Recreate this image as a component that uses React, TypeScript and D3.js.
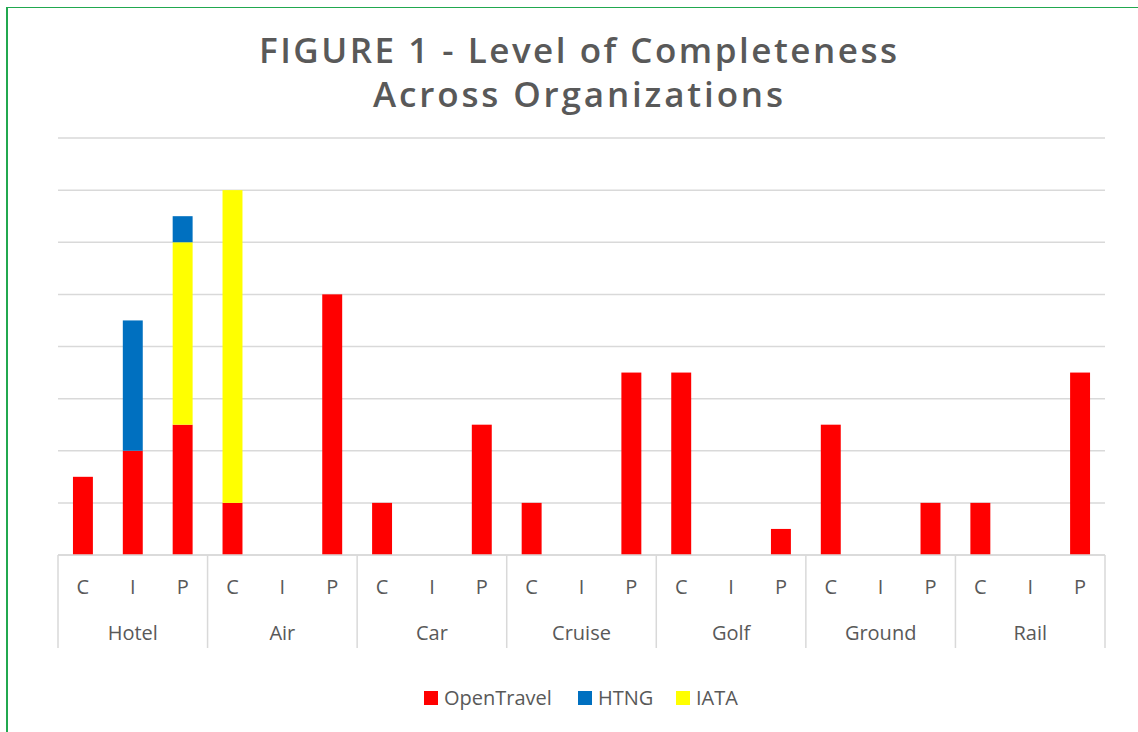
import { useEffect, useRef } from "react";
import * as d3 from "d3";

// chart data
const groups = ["Hotel", "Air", "Car", "Cruise", "Golf", "Ground", "Rail"];
const levels = ["C", "I", "P"];
const openTravel = [1.5, 2, 2.5, 1, 0, 5, 1, 0, 2.5, 1, 0, 3.5, 3.5, 0, 0.5, 2.5, 0, 1, 1, 0, 3.5];
const htng = [0, 2.5, 0.5, 0, 0, 0, 0, 0, 0, 0, 0, 0, 0, 0, 0, 0, 0, 0, 0, 0, 0];
const iata = [0, 0, 3.5, 6, 0, 0, 0, 0, 0, 0, 0, 0, 0, 0, 0, 0, 0, 0, 0, 0, 0];
const yTicks = [0, 1, 2, 3, 4, 5, 6, 7, 8];
const legendKeys = ["OpenTravel", "HTNG", "IATA"];
const stackKeys = ["OpenTravel", "IATA", "HTNG"];

const colors: Record<string, string> = {
  OpenTravel: "#ff0000",
  HTNG: "#0070c0",
  IATA: "#ffff00",
};

const W = 1138;
const H = 732;
const FONT = "'Open Sans', 'Noto Sans', sans-serif";
const TEXT = "#595959";
const GRID = "#d9d9d9";

export default function App() {
  const ref = useRef<SVGSVGElement>(null);

  useEffect(() => {
    const svg = d3.select(ref.current);
    svg.selectAll("*").remove();

    const left = 58, right = 1105, top = 138, bottom = 555;

    // rows for the stack, one per slot
    const rows = groups.flatMap((g, gi) =>
      levels.map((l, li) => {
        const i = gi * 3 + li;
        return { group: g, level: l, OpenTravel: openTravel[i], HTNG: htng[i], IATA: iata[i] };
      })
    );

    const x0 = d3.scaleBand().domain(groups).range([left, right]).padding(0);
    const x1 = d3.scaleBand().domain(levels).range([0, x0.bandwidth()]).paddingInner(0.6).paddingOuter(0.3);
    const y = d3.scaleLinear().domain([0, 8]).range([bottom, top]);

    // green frame
    svg.append("rect")
      .attr("x", 7).attr("y", 7.5)
      .attr("width", W + 20).attr("height", H + 20)
      .attr("fill", "none")
      .attr("stroke", "#21a84f").attr("stroke-width", 1);
    svg.append("line")
      .attr("x1", 7).attr("x2", 7).attr("y1", 7).attr("y2", H)
      .attr("stroke", "#21a84f").attr("stroke-width", 2);

    // title
    const title = svg.append("text")
      .attr("text-anchor", "middle")
      .attr("font-family", FONT)
      .attr("font-weight", 600)
      .attr("font-size", 35)
      .attr("fill", TEXT);
    title.append("tspan").attr("x", 578).attr("y", 63)
      .attr("textLength", 638).attr("lengthAdjust", "spacing")
      .text("FIGURE 1 - Level of Completeness");
    title.append("tspan").attr("x", 578).attr("y", 107)
      .attr("textLength", 410).attr("lengthAdjust", "spacing")
      .text("Across Organizations");

    // gridlines
    svg.append("g")
      .selectAll("line")
      .data(yTicks)
      .join("line")
      .attr("x1", left).attr("x2", right)
      .attr("y1", (d) => y(d)).attr("y2", (d) => y(d))
      .attr("stroke", GRID).attr("stroke-width", 1.5);

    // stacked bars
    const series = d3.stack<any>().keys(stackKeys)(rows);
    svg.append("g")
      .selectAll("g")
      .data(series)
      .join("g")
      .attr("fill", (s) => colors[s.key])
      .selectAll("rect")
      .data((s) => s)
      .join("rect")
      .attr("x", (d: any) => (x0(d.data.group) ?? 0) + (x1(d.data.level) ?? 0))
      .attr("width", x1.bandwidth())
      .attr("y", (d) => y(d[1]))
      .attr("height", (d) => y(d[0]) - y(d[1]));

    // category axis
    const axis = svg.append("g");
    axis.append("line")
      .attr("x1", left).attr("x2", right)
      .attr("y1", bottom).attr("y2", bottom)
      .attr("stroke", GRID).attr("stroke-width", 1.5);
    axis.selectAll("line.div")
      .data([...groups.map((g) => x0(g) ?? 0), right])
      .join("line")
      .attr("class", "div")
      .attr("x1", (d) => d).attr("x2", (d) => d)
      .attr("y1", bottom).attr("y2", 648)
      .attr("stroke", GRID).attr("stroke-width", 1.5);

    axis.selectAll("text.lvl")
      .data(rows)
      .join("text")
      .attr("class", "lvl")
      .attr("x", (d) => (x0(d.group) ?? 0) + (x1(d.level) ?? 0) + x1.bandwidth() / 2)
      .attr("y", 594)
      .attr("text-anchor", "middle")
      .attr("font-family", FONT)
      .attr("font-size", 20)
      .attr("fill", TEXT)
      .text((d) => d.level);

    axis.selectAll("text.grp")
      .data(groups)
      .join("text")
      .attr("class", "grp")
      .attr("x", (d) => (x0(d) ?? 0) + x0.bandwidth() / 2)
      .attr("y", 640)
      .attr("text-anchor", "middle")
      .attr("font-family", FONT)
      .attr("font-size", 20)
      .attr("fill", TEXT)
      .text((d) => d);

    // legend
    const legendX = [424, 578, 676];
    const lg = svg.append("g")
      .selectAll("g")
      .data(legendKeys)
      .join("g")
      .attr("transform", (d, i) => `translate(${legendX[i]},691)`);
    lg.append("rect").attr("width", 14).attr("height", 14).attr("fill", (d) => colors[d]);
    lg.append("text")
      .attr("x", 20).attr("y", 14)
      .attr("font-family", FONT)
      .attr("font-size", 20)
      .attr("fill", TEXT)
      .text((d) => d);
  }, []);

  return (
    <svg
      ref={ref}
      width={W}
      height={H}
      style={{ position: "absolute", left: 0, top: 0, background: "#fff" }}
    ></svg>
  );
}
